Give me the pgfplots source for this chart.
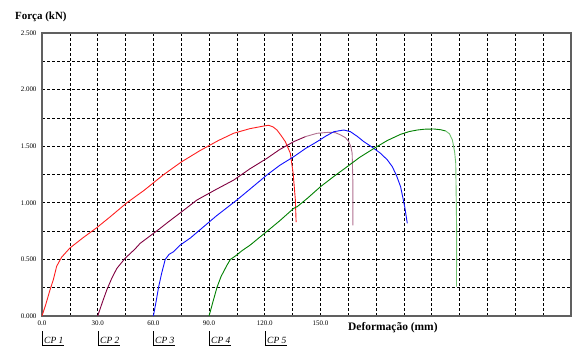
\documentclass[border=0pt]{standalone}
\usepackage{pgfplots}
\pgfplotsset{compat=1.18}
\usepackage{fontspec}
\setmainfont{Liberation Serif}
\definecolor{cpred}{HTML}{FF2020}
\definecolor{cppur}{HTML}{800040}
\definecolor{cppurl}{HTML}{B07090}
\definecolor{cpblue}{HTML}{1010FF}
\definecolor{cpgreen}{HTML}{008000}
\definecolor{cpgreenl}{HTML}{70C070}
\definecolor{axgray}{HTML}{606060}
\begin{document}
\begin{tikzpicture}
\path[use as bounding box] (0,0) rectangle (572bp,347bp);
\begin{axis}[
  anchor=south west, at={(42bp,31bp)},
  scale only axis, width=529bp, height=283bp,
  xmin=0, xmax=285, ymin=0, ymax=2.5,
  xtick={0,30,...,150},
  xticklabels={0.0,30.0,60.0,90.0,120.0,150.0},
  minor xtick={15,45,...,285,180,210,240,270},
  ytick={0,0.5,...,2.5},
  yticklabels={0.000,0.500,1.000,1.500,2.000,2.500},
  minor ytick={0.25,0.75,...,2.25},
  grid=both,
  major grid style={black, dash pattern=on 3bp off 2bp, line width=0.6bp},
  minor grid style={black, dash pattern=on 3bp off 2bp, line width=0.6bp},
  major tick length=0pt, minor tick length=0pt,
  axis line style={axgray, line width=1.3bp},
  tick label style={font=\fontsize{7}{8}\selectfont},
  /pgf/number format/assume math mode=true,
  xticklabel style={yshift=-1bp},
  yticklabel style={xshift=-2bp},
  axis on top=false,
]
\addplot[cpred, line width=0.9bp] coordinates {(0,0)(2,0.1)(4.3,0.23)(6.1,0.32)(7.9,0.44)(10.6,0.52)(15,0.60)(22,0.69)(29.5,0.78)(37,0.88)(45.7,1.0)(55,1.11)(65.3,1.246)(75,1.36)(85,1.46)(95,1.55)(103.2,1.614)(112,1.655)(119.4,1.678)(122.1,1.685)(124.5,1.67)(126.6,1.643)(129,1.59)(131.1,1.54)(133.8,1.437)(135.3,1.26)(136.5,1.025)(136.9,0.83)};
\addplot[cppur, line width=0.9bp] coordinates {(30,0)(32.5,0.12)(34.9,0.23)(37.5,0.33)(40.3,0.42)(44.8,0.51)(50,0.59)(52.9,0.642)(56,0.68)(63.7,0.775)(68.2,0.833)(76,0.93)(83.5,1.025)(94,1.12)(103.2,1.20)(112,1.30)(121.2,1.393)(128,1.47)(135.6,1.54)(142,1.585)};
\addplot[cppurl, line width=0.9bp] coordinates {(142,1.585)(148.2,1.614)(154.5,1.623)(158,1.62)(160.8,1.60)(163.5,1.575)(165.3,1.54)(166.5,1.49)(167.1,1.437)(167.5,1.17)(167.5,0.80)};
\addplot[cpblue, line width=0.9bp] coordinates {(60,0)(61.5,0.13)(62.8,0.254)(64.5,0.38)(66.4,0.50)(68.5,0.545)(70.9,0.568)(74.5,0.627)(80,0.69)(84.3,0.75)(94,0.885)(105,1.025)(112,1.12)(121.2,1.246)(128,1.33)(135.6,1.407)(142,1.48)(148.2,1.54)(153,1.59)(157.2,1.628)(162.6,1.643)(166.2,1.628)(170,1.585)(173.4,1.54)(178,1.49)(182.4,1.437)(186,1.38)(188.7,1.32)(191,1.24)(193.2,1.142)(195.4,0.966)(196.8,0.819)};
\addplot[cpgreen, line width=0.9bp] coordinates {(90,0)(92,0.12)(94.3,0.254)(96.5,0.35)(99.7,0.45)(101.5,0.50)(104.2,0.53)(108,0.58)(112.2,0.627)(117.6,0.70)(122.1,0.76)(128,0.84)(135.6,0.951)(137.5,0.966)(143,1.04)(150,1.142)(157,1.23)(164.4,1.319)(171,1.40)(178.8,1.48)(186,1.55)(193.2,1.605)(198,1.63)(202.2,1.643)(206,1.65)(211.2,1.652)(215,1.645)(217.5,1.634)};
\addplot[cpgreenl, line width=0.9bp] coordinates {(217.5,1.634)(219.5,1.61)(221.1,1.555)(222.3,1.45)(222.9,1.349)(223.2,1.0)(223.4,0.73)(223.3,0.26)};
\end{axis}
\node[anchor=west, font=\fontsize{11}{12}\selectfont\bfseries, inner sep=0pt] at (15bp,330.5bp) {Força (kN)};
\node[anchor=west, font=\fontsize{11.5}{12}\selectfont\bfseries, inner sep=0pt] at (348bp,19bp) {Deformação (mm)};
\foreach \x/\t in {42/1,98/2,153/3,209/4,265/5}{
  \draw[black, line width=0.6bp] (\x bp,1bp) -- (\x bp,16bp);
  \draw[black, line width=0.5bp] (\x bp,2bp) -- ++(22bp,0);
  \node[anchor=south west, inner sep=0pt, font=\fontsize{9.5}{10}\selectfont\itshape] at (\x bp+2bp,3.5bp) {CP \t};
}
\end{tikzpicture}
\end{document}
